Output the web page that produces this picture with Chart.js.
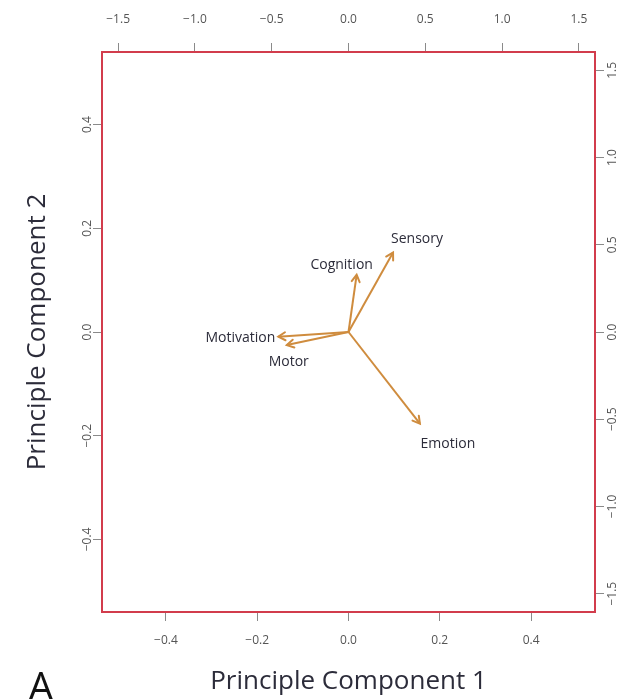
<!DOCTYPE html>
<html>
<head>
<meta charset="utf-8">
<script src="https://cdn.jsdelivr.net/npm/chart.js@4.4.1/dist/chart.umd.min.js"></script>
<style>
  html, body { margin: 0; padding: 0; background: #ffffff; }
  #wrap { width: 624px; height: 699px; position: relative; }
</style>
</head>
<body>
<div id="wrap"><canvas id="biplot" width="624" height="699"></canvas></div>
<script>
// Variable loadings on the first two principal components (loading scale, top/right axes)
const varNames = ['Sensory', 'Cognition', 'Motivation', 'Motor', 'Emotion'];
const pc1Loadings = [0.29, 0.053, -0.457, -0.402, 0.465];
const pc2Loadings = [0.456, 0.328, -0.027, -0.075, -0.525];

// Axis ticks and limits
const scoreTicks = [-0.4, -0.2, 0.0, 0.2, 0.4];
const loadingTicks = [-1.5, -1.0, -0.5, 0.0, 0.5, 1.0, 1.5];
const scoreLimit = 0.54;
const loadingLimit = 1.605;

const BOX_RED = '#d23c4c';
const ARROW = '#cf8c3e';
const TICK_GREY = '#8a8a8a';
const LABEL_GREY = '#555555';
const TEXT_DARK = '#2c2c3a';
const fmt = v => (v < 0 ? '\u2212' : '') + Math.abs(v).toFixed(1);

// pixel nudges for the variable names relative to arrow tips
const nameOffsets = {
  Sensory: [24, -13, 'center'],
  Cognition: [-15, -10, 'center'],
  Motivation: [-3, 1, 'right'],
  Motor: [2, 17, 'center'],
  Emotion: [28, 20, 'center']
};

const datasets = varNames.map((name, i) => ({
  label: name,
  data: [{ x: 0, y: 0 }, { x: pc1Loadings[i], y: pc2Loadings[i] }],
  xAxisID: 'x2',
  yAxisID: 'y2',
  showLine: true,
  borderColor: ARROW,
  borderWidth: 2,
  pointRadius: 0,
  pointHoverRadius: 0,
  fill: false
}));

const setTicks = values => scale => { scale.ticks = values.map(v => ({ value: v })); };

// arrowheads + variable names
const arrowPlugin = {
  id: 'arrowHeads',
  afterDatasetsDraw(chart) {
    const ctx = chart.ctx;
    ctx.save();
    chart.data.datasets.forEach((ds, i) => {
      const meta = chart.getDatasetMeta(i);
      const p0 = meta.data[0], p1 = meta.data[1];
      const ang = Math.atan2(p1.y - p0.y, p1.x - p0.x);
      const len = 8, spread = Math.PI / 6;
      ctx.strokeStyle = ARROW;
      ctx.lineWidth = 2;
      ctx.lineCap = 'round';
      ctx.beginPath();
      ctx.moveTo(p1.x - len * Math.cos(ang - spread), p1.y - len * Math.sin(ang - spread));
      ctx.lineTo(p1.x, p1.y);
      ctx.lineTo(p1.x - len * Math.cos(ang + spread), p1.y - len * Math.sin(ang + spread));
      ctx.stroke();

      const off = nameOffsets[ds.label];
      ctx.fillStyle = TEXT_DARK;
      ctx.font = '14px "Open Sans"';
      ctx.textAlign = off[2];
      ctx.textBaseline = 'middle';
      ctx.fillText(ds.label, p1.x + off[0], p1.y + off[1]);
    });
    ctx.restore();
  }
};

// rotated tick labels on the vertical axes, plus the panel letter
const sideLabels = {
  id: 'sideLabels',
  afterDraw(chart) {
    const ctx = chart.ctx;
    ctx.save();
    ctx.font = '12px "Open Sans"';
    ctx.fillStyle = LABEL_GREY;
    ctx.textAlign = 'center';
    ctx.textBaseline = 'middle';
    const yl = chart.scales.y, yr = chart.scales.y2;
    yl.ticks.forEach(t => {
      const py = yl.getPixelForValue(t.value);
      ctx.save();
      ctx.translate(yl.right - 14, py);
      ctx.rotate(-Math.PI / 2);
      ctx.fillText(fmt(t.value), 0, 0);
      ctx.restore();
    });
    yr.ticks.forEach(t => {
      const py = yr.getPixelForValue(t.value);
      ctx.save();
      ctx.translate(yr.left + 18, py);
      ctx.rotate(-Math.PI / 2);
      ctx.fillText(fmt(t.value), 0, 0);
      ctx.restore();
    });
    ctx.fillStyle = '#111111';
    ctx.font = '40px "Open Sans"';
    ctx.textAlign = 'center';
    ctx.textBaseline = 'alphabetic';
    ctx.fillText('A', 41, 701);
    ctx.restore();
  }
};

const gridOpts = { drawOnChartArea: false, drawTicks: true, tickLength: 9, color: TICK_GREY, lineWidth: 1 };
const borderOpts = { display: true, color: BOX_RED, width: 2 };
const tickFont = { family: 'Open Sans', size: 12 };

new Chart(document.getElementById('biplot'), {
  type: 'scatter',
  data: { datasets },
  options: {
    responsive: false,
    animation: false,
    events: [],
    layout: { padding: 0 },
    plugins: { legend: { display: false }, tooltip: { enabled: false } },
    scales: {
      x: {
        type: 'linear', position: 'bottom', min: -scoreLimit, max: scoreLimit,
        afterBuildTicks: setTicks(scoreTicks),
        afterFit: s => { s.height = 87; },
        grid: gridOpts, border: borderOpts,
        ticks: { font: tickFont, color: LABEL_GREY, padding: 12, maxRotation: 0, autoSkip: false, callback: v => fmt(v) },
        title: { display: true, text: 'Principle Component 1', color: TEXT_DARK,
                 font: { family: 'Open Sans', size: 26 }, padding: { top: 0, bottom: 2 } }
      },
      y: {
        type: 'linear', position: 'left', min: -scoreLimit, max: scoreLimit,
        afterBuildTicks: setTicks(scoreTicks),
        afterFit: s => { s.width = 102; },
        grid: gridOpts, border: borderOpts,
        ticks: { display: false },
        title: { display: true, text: 'Principle Component 2', color: TEXT_DARK,
                 font: { family: 'Open Sans', size: 26 }, padding: { top: 22, bottom: 0 } }
      },
      x2: {
        type: 'linear', position: 'top', min: -loadingLimit, max: loadingLimit,
        afterBuildTicks: setTicks(loadingTicks),
        afterFit: s => { s.height = 52; },
        grid: gridOpts, border: borderOpts,
        ticks: { font: tickFont, color: LABEL_GREY, padding: 16, maxRotation: 0, autoSkip: false, callback: v => fmt(v) }
      },
      y2: {
        type: 'linear', position: 'right', min: -loadingLimit, max: loadingLimit,
        afterBuildTicks: setTicks(loadingTicks),
        afterFit: s => { s.width = 29; },
        grid: gridOpts, border: borderOpts,
        ticks: { display: false }
      }
    }
  },
  plugins: [arrowPlugin, sideLabels]
});
</script>
</body>
</html>
